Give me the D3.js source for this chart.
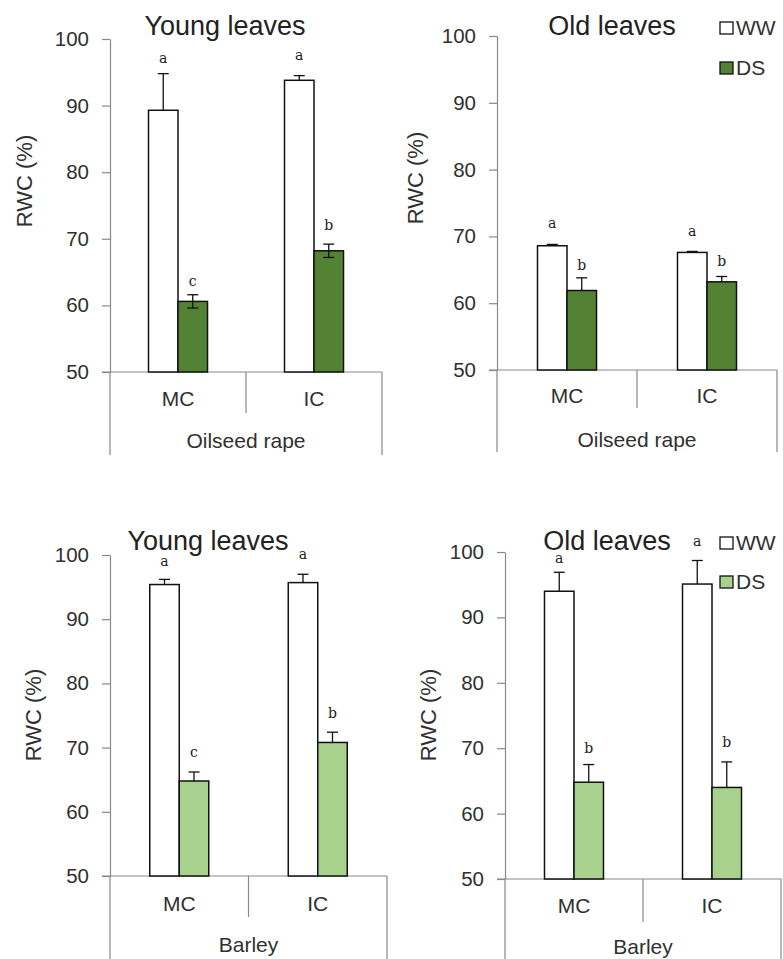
<!DOCTYPE html>
<html>
<head>
<meta charset="utf-8">
<script src="https://cdn.jsdelivr.net/npm/d3@7"></script>
<style>
  body { margin: 0; background: #fff; }
  svg { display: block; font-family: "Liberation Sans", Arial, sans-serif; }
</style>
</head>
<body>
<script>
// RWC (%) of young / old leaves, WW vs DS, oilseed rape and barley
const categories = ["MC", "IC"];
const treatments = ["WW", "DS"];
const titles = ["Young leaves", "Old leaves", "Young leaves", "Old leaves"];
const crops = ["Oilseed rape", "Oilseed rape", "Barley", "Barley"];

// values per panel: [MC, IC]
const wwValues = [[89.3, 93.8], [68.6, 67.6], [95.4, 95.7], [94.0, 95.1]];
const dsValues = [[60.6, 68.2], [61.9, 63.2], [64.8, 70.8], [64.8, 64.0]];
const wwErrors = [[5.5, 0.7], [0.2, 0.15], [0.8, 1.3], [2.9, 3.6]];
const dsErrors = [[1.0, 1.0], [1.9, 0.8], [1.4, 1.6], [2.7, 3.9]];
const wwLetters = [["a", "a"], ["a", "a"], ["a", "a"], ["a", "a"]];
const dsLetters = [["c", "b"], ["b", "b"], ["c", "b"], ["b", "b"]];
const yTicks = [50, 60, 70, 80, 90, 100];

// layout only (pixel positions of each panel)
const layout = [
  {x0: 110, x1: 382, yTop: 39, yBot: 372, divBot: 413, outBot: 455, catY: 406, cropY: 448, titleX: 225, titleY: 35, labX: 24, labY: 181, ds: "#548235", both: true, legend: false},
  {x0: 497, x1: 777, yTop: 36, yBot: 370, divBot: 408, outBot: 452, catY: 403, cropY: 447, titleX: 612, titleY: 35, labX: 415, labY: 178, ds: "#548235", both: false, legend: true, legX: 720, legY: [22, 62]},
  {x0: 110, x1: 387, yTop: 555, yBot: 876, divBot: 917, outBot: 965, catY: 911, cropY: 952, titleX: 208, titleY: 550, labX: 33, labY: 715, ds: "#a9d18e", both: false, legend: false},
  {x0: 505, x1: 781, yTop: 552, yBot: 879, divBot: 922, outBot: 965, catY: 913, cropY: 954, titleX: 607, titleY: 550, labX: 428, labY: 715, ds: "#a9d18e", both: false, legend: true, legX: 720, legY: [537, 576]}
];
// gap between error-bar top and significance letter, [MC WW, MC DS, IC WW, IC DS]
const letterGap = [[11, 9, 16, 14], [16, 8, 15, 10], [13, 15, 15, 14], [9, 12, 15, 15]];

const svg = d3.select("body").append("svg")
  .attr("width", 783)
  .attr("height", 959);

const axisColor = "#898989";
const textColor = "#303030";

layout.forEach((L, p) => {
  const g = svg.append("g");
  const y = d3.scaleLinear().domain([50, 100]).range([L.yBot, L.yTop]);
  const x = d3.scaleBand().domain(categories).range([L.x0, L.x1]);
  const xi = d3.scaleBand().domain(treatments).range([0, 59]);

  // y axis
  const yAxis = g.append("g")
    .attr("transform", `translate(${L.x0},0)`)
    .call(d3.axisLeft(y).tickValues(yTicks).tickSize(8).tickPadding(13).tickSizeOuter(0));
  yAxis.select(".domain").attr("stroke", axisColor).attr("stroke-width", 1.2);
  yAxis.selectAll(".tick line").attr("stroke", axisColor).attr("stroke-width", 1.2);
  yAxis.selectAll(".tick text")
    .attr("fill", textColor)
    .style("font-size", "20.5px")
    .style("font-family", "Liberation Sans, Arial, sans-serif");

  // category box lines
  const lines = [
    [L.x0 - 8, L.yBot, L.x1, L.yBot],
    [L.x0, L.yBot, L.x0, L.outBot],
    [L.x1, L.yBot, L.x1, L.outBot],
    [x("IC"), L.yBot, x("IC"), L.divBot]
  ];
  g.selectAll("line.box").data(lines).join("line")
    .attr("class", "box")
    .attr("x1", d => d[0]).attr("y1", d => d[1])
    .attr("x2", d => d[2]).attr("y2", d => d[3])
    .attr("stroke", axisColor).attr("stroke-width", 1.2);

  // bars
  const rows = [];
  categories.forEach((c, i) => {
    rows.push({cat: c, tr: "WW", v: wwValues[p][i], e: wwErrors[p][i], l: wwLetters[p][i], gap: letterGap[p][i * 2], both: false});
    rows.push({cat: c, tr: "DS", v: dsValues[p][i], e: dsErrors[p][i], l: dsLetters[p][i], gap: letterGap[p][i * 2 + 1], both: L.both});
  });
  const bx = d => x(d.cat) + x.bandwidth() / 2 - 29.5 + xi(d.tr);

  g.selectAll("rect.bar").data(rows).join("rect")
    .attr("class", "bar")
    .attr("x", bx)
    .attr("y", d => y(d.v))
    .attr("width", xi.bandwidth())
    .attr("height", d => y(50) - y(d.v))
    .attr("fill", d => d.tr === "WW" ? "#fff" : L.ds)
    .attr("stroke", "#111")
    .attr("stroke-width", 1.5);

  // error bars
  const cx = d => bx(d) + xi.bandwidth() / 2;
  g.selectAll("line.err").data(rows).join("line")
    .attr("class", "err")
    .attr("x1", cx).attr("x2", cx)
    .attr("y1", d => d.both ? y(d.v - d.e) : y(d.v))
    .attr("y2", d => y(d.v + d.e))
    .attr("stroke", "#111").attr("stroke-width", 1.3);
  g.selectAll("line.capTop").data(rows).join("line")
    .attr("class", "capTop")
    .attr("x1", d => cx(d) - 5.5).attr("x2", d => cx(d) + 5.5)
    .attr("y1", d => y(d.v + d.e)).attr("y2", d => y(d.v + d.e))
    .attr("stroke", "#111").attr("stroke-width", 1.3);
  g.selectAll("line.capBot").data(rows.filter(d => d.both)).join("line")
    .attr("class", "capBot")
    .attr("x1", d => cx(d) - 5.5).attr("x2", d => cx(d) + 5.5)
    .attr("y1", d => y(d.v - d.e)).attr("y2", d => y(d.v - d.e))
    .attr("stroke", "#111").attr("stroke-width", 1.3);

  // significance letters
  g.selectAll("text.sig").data(rows).join("text")
    .attr("class", "sig")
    .attr("x", cx)
    .attr("y", d => y(d.v + d.e) - d.gap)
    .attr("text-anchor", "middle")
    .style("font-family", "DejaVu Serif, serif")
    .style("font-size", "14px")
    .attr("fill", "#222")
    .text(d => d.l);

  // category labels
  g.selectAll("text.cat").data(categories).join("text")
    .attr("class", "cat")
    .attr("x", d => x(d) + x.bandwidth() / 2)
    .attr("y", L.catY)
    .attr("text-anchor", "middle")
    .style("font-size", "21px")
    .attr("fill", textColor)
    .text(d => d);

  g.append("text")
    .attr("x", (L.x0 + L.x1) / 2)
    .attr("y", L.cropY)
    .attr("text-anchor", "middle")
    .style("font-size", "21px")
    .attr("fill", textColor)
    .text(crops[p]);

  // title
  g.append("text")
    .attr("x", L.titleX)
    .attr("y", L.titleY)
    .attr("text-anchor", "middle")
    .style("font-size", "27px")
    .attr("fill", "#222")
    .text(titles[p]);

  // y label
  g.append("text")
    .attr("transform", `translate(${L.labX},${L.labY}) rotate(-90)`)
    .attr("text-anchor", "middle")
    .attr("dominant-baseline", "central")
    .style("font-size", "22px")
    .attr("fill", textColor)
    .text("RWC (%)");

  // legend
  if (L.legend) {
    treatments.forEach((t, i) => {
      g.append("rect")
        .attr("x", L.legX)
        .attr("y", L.legY[i])
        .attr("width", 13)
        .attr("height", 12)
        .attr("fill", t === "WW" ? "#fff" : L.ds)
        .attr("stroke", "#111")
        .attr("stroke-width", 1.3);
      g.append("text")
        .attr("x", L.legX + 16)
        .attr("y", L.legY[i] + 12.5)
        .style("font-size", "21px")
        .attr("fill", textColor)
        .text(t);
    });
  }
});
</script>
</body>
</html>
